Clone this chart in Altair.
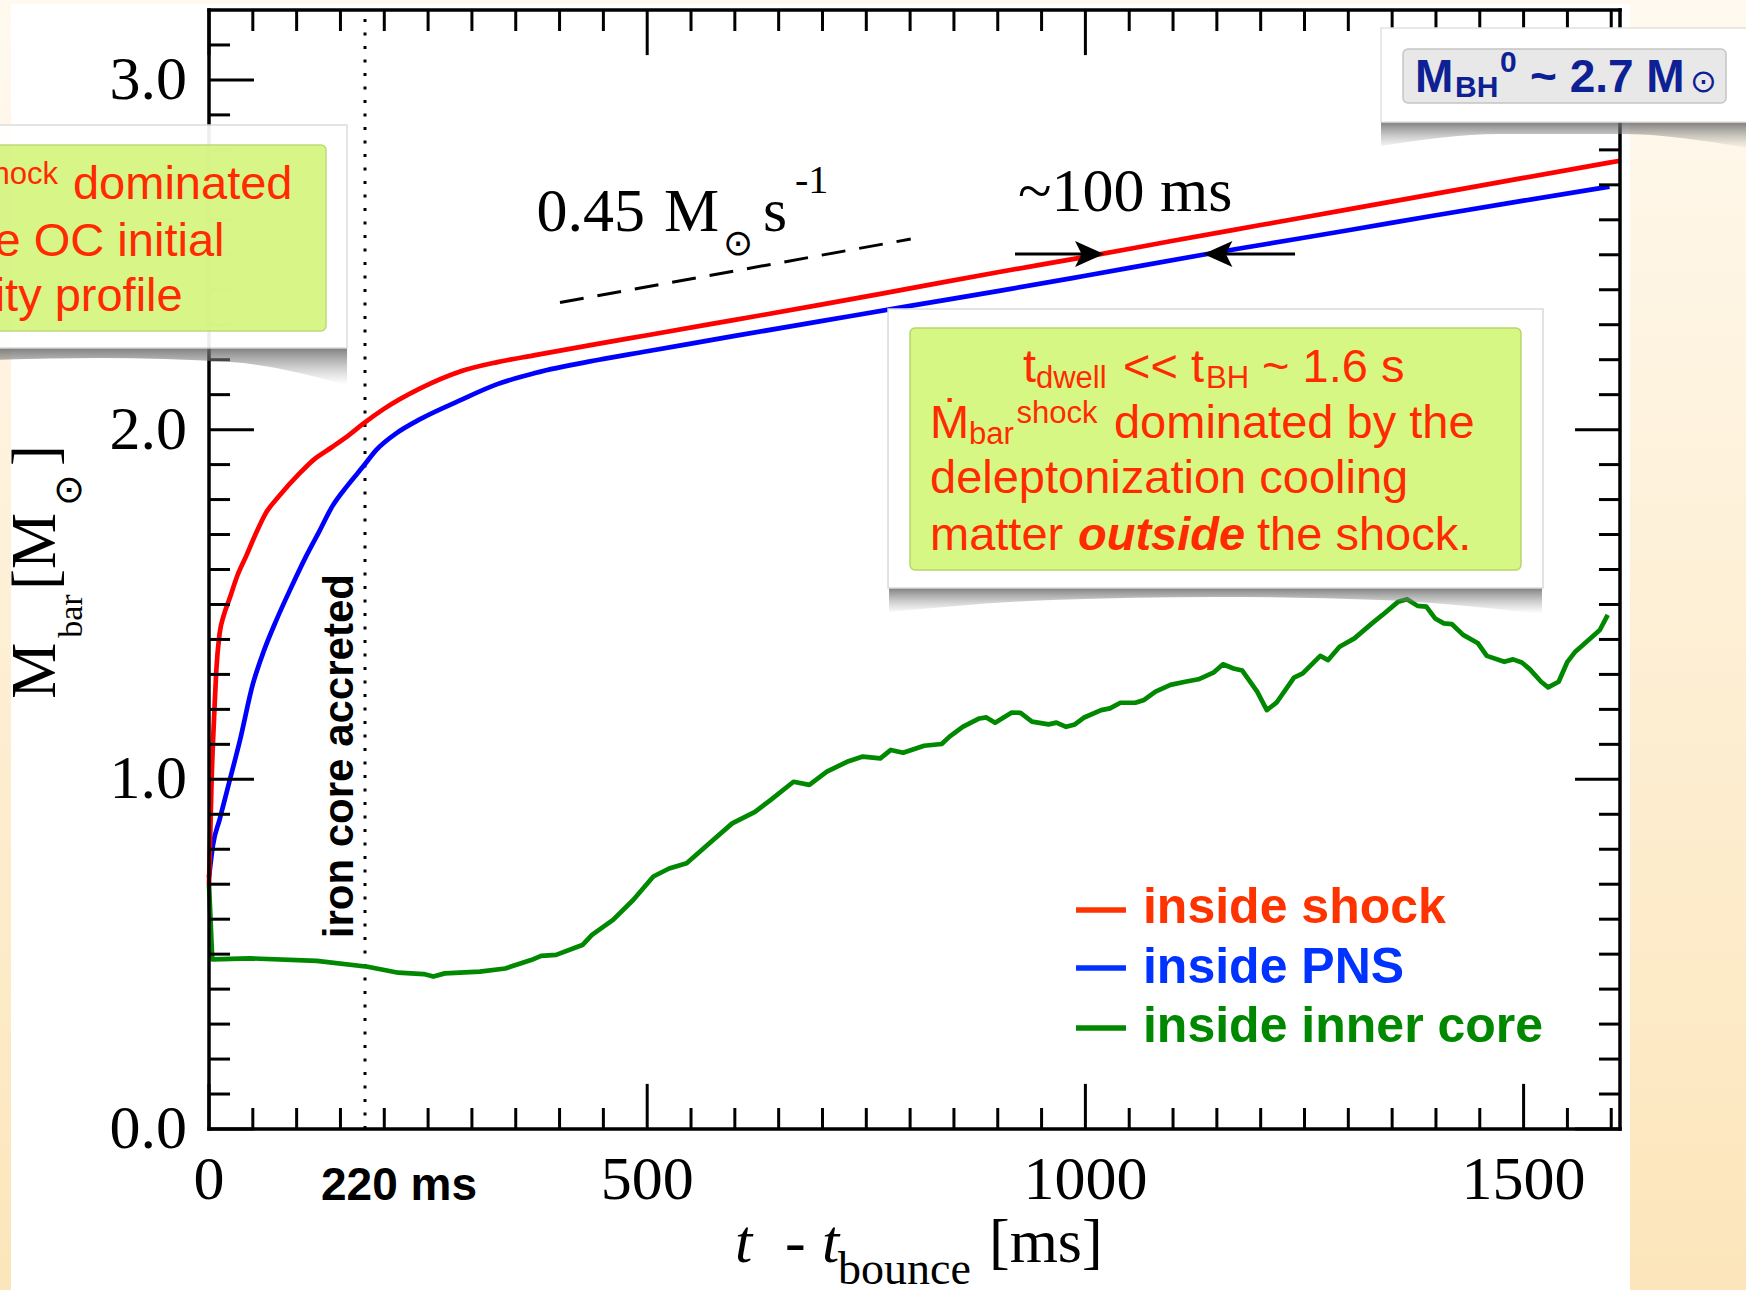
import altair as alt
import pandas as pd

# ---------------- data ----------------
series_names = ["inside shock", "inside PNS", "inside inner core"]
line_colors = ["#FF0000", "#0000FF", "#008800"]
legend_text_colors = ["#FF3300", "#0033FF", "#008800"]

shock_t = [0, 3, 6.4, 8.3, 12, 17, 23.5, 32, 42.5, 53, 65, 80, 103, 120, 141, 160, 176, 200,
           241, 285, 329, 372, 445, 500, 600, 700, 800, 900, 1000, 1100, 1200, 1300, 1400, 1500, 1610]
shock_m = [0.70, 1.00, 1.21, 1.31, 1.415, 1.47, 1.517, 1.58, 1.639, 1.70, 1.762, 1.81, 1.874, 1.915,
           1.951, 1.985, 2.017, 2.06, 2.118, 2.165, 2.193, 2.213, 2.246, 2.270, 2.314, 2.358, 2.404,
           2.45, 2.494, 2.54, 2.585, 2.63, 2.675, 2.72, 2.769]

pns_t = [0, 4.5, 12, 23.5, 35, 50, 63, 77, 94, 111, 126, 141, 158, 176, 191, 214, 241, 285, 329,
         372, 445, 500, 600, 700, 800, 900, 1000, 1134, 1200, 1300, 1400, 1500, 1598]
pns_m = [0.72, 0.812, 0.884, 0.996, 1.108, 1.272, 1.37, 1.456, 1.55, 1.639, 1.71, 1.782, 1.84,
         1.895, 1.942, 1.99, 2.03, 2.082, 2.130, 2.162, 2.200, 2.224, 2.268, 2.311, 2.354, 2.396,
         2.44, 2.50, 2.528, 2.57, 2.613, 2.655, 2.695]

core_t = [0, 3.7, 47, 123, 181, 216, 245, 256, 269, 309, 338, 367.5, 379, 396, 426, 437, 461, 484,
          507, 525, 545, 571, 597, 623, 641, 667, 685, 705, 728, 746, 766, 778, 792, 816, 836, 845,
          860, 879, 887, 897, 916, 926, 939, 958, 967, 978, 988, 998, 1018, 1028, 1040, 1057, 1067,
          1080, 1097, 1114, 1129, 1146, 1157, 1169, 1179, 1196, 1207, 1218, 1238, 1248, 1268, 1277,
          1290, 1307, 1327, 1339, 1357, 1367, 1379, 1389, 1399, 1409, 1418, 1431, 1448, 1458, 1478,
          1488, 1498, 1507, 1520, 1528, 1540, 1550, 1559, 1587, 1596]
core_m = [0.70, 0.485, 0.488, 0.481, 0.464, 0.447, 0.443, 0.436, 0.445, 0.450, 0.459, 0.483, 0.495,
          0.498, 0.526, 0.555, 0.598, 0.655, 0.722, 0.745, 0.760, 0.817, 0.874, 0.907, 0.941, 0.993,
          0.984, 1.022, 1.050, 1.065, 1.060, 1.084, 1.076, 1.096, 1.101, 1.122, 1.150, 1.174, 1.177,
          1.162, 1.191, 1.190, 1.165, 1.157, 1.162, 1.150, 1.157, 1.176, 1.198, 1.203, 1.219, 1.219,
          1.227, 1.251, 1.270, 1.279, 1.286, 1.305, 1.329, 1.317, 1.311, 1.251, 1.198, 1.219, 1.291,
          1.303, 1.353, 1.341, 1.379, 1.403, 1.446, 1.470, 1.508, 1.515, 1.496, 1.494, 1.460, 1.446,
          1.444, 1.413, 1.389, 1.353, 1.336, 1.343, 1.334, 1.315, 1.279, 1.263, 1.279, 1.336, 1.365,
          1.427, 1.470]

x_major = [0, 500, 1000, 1500]
y_major = [0.0, 1.0, 2.0, 3.0]
x_minor = [v for v in range(50, 1601, 50) if v % 500]
y_minor = [round(0.1 * i, 1) for i in range(1, 32) if i % 10]

# ---------------- layout ----------------
T_MAX, M_MAX = 1610, 3.2
W, H = 1411, 1119
TICK_T_MIN, TICK_T_MAJ = 24.0, 51.3      # ms
TICK_M_MIN, TICK_M_MAJ = 0.060, 0.129    # M_sun
X_LABEL_M = -0.2002                      # baseline of the x tick labels
Y_LABEL_T = -25.1                        # right edge of the y tick labels

SERIF = "Liberation Serif"
SANS = "Liberation Sans"
RED_TXT = "#FF2A00"
NAVY = "#0D2194"

XS = alt.Scale(domain=[0, T_MAX], nice=False, zero=False)
YS = alt.Scale(domain=[0, M_MAX], nice=False, zero=False)


def X(f="t"):
    return alt.X(f"{f}:Q", scale=XS, axis=None)


def Y(f="m"):
    return alt.Y(f"{f}:Q", scale=YS, axis=None)


def rect_layer(rows, **props):
    df = pd.DataFrame(rows, columns=["t", "t2", "m", "m2"])
    return alt.Chart(df).mark_rect(**props).encode(x=X(), x2="t2:Q", y=Y(), y2="m2:Q")


def rule_layer(rows, **props):
    df = pd.DataFrame(rows, columns=["t", "t2", "m", "m2"])
    return alt.Chart(df).mark_rule(**props).encode(x=X(), x2="t2:Q", y=Y(), y2="m2:Q")


def text_layer(rows, **props):
    df = pd.DataFrame(rows, columns=["t", "m", "label"])
    p = dict(align="left", baseline="alphabetic")
    p.update(props)
    return alt.Chart(df).mark_text(**p).encode(x=X(), y=Y(), text="label:N")


def shadow_layer(ts, top, bottoms):
    df = pd.DataFrame({"t": ts, "m": [top] * len(ts), "m2": bottoms})
    grad = alt.LinearGradient(
        gradient="linear",
        stops=[alt.GradientStop(color="rgba(105,105,105,0.85)", offset=0),
               alt.GradientStop(color="rgba(160,160,160,0)", offset=1)],
        x1=0, x2=0, y1=0, y2=1)
    return alt.Chart(df).mark_area(color=grad, interpolate="monotone").encode(
        x=X(), y=Y(), y2="m2:Q")


layers = []

# page background (cream gradient) and the white figure sheet
bg_grad = alt.LinearGradient(
    gradient="linear",
    stops=[alt.GradientStop(color="#FFF9EF", offset=0),
           alt.GradientStop(color="#FCE5BA", offset=1)],
    x1=0, x2=0, y1=0, y2=1)
layers.append(rect_layer([(-260, 1780, -0.5, 3.25)], color=bg_grad))
layers.append(rect_layer([(-225.9, 1621.4, -0.5, 3.217)], color="white"))

# reference lines
layers.append(rule_layer([(178, 178, 0, M_MAX)], color="black", strokeWidth=3, strokeDash=[3, 10.5]))
layers.append(rule_layer([(400.5, 800.7, 2.3635, 2.545)], color="black", strokeWidth=3, strokeDash=[24, 14]))

# curves
color_enc = alt.Color("series:N", scale=alt.Scale(domain=series_names, range=line_colors), legend=None)
core_df = pd.DataFrame({"series": series_names[2], "t": core_t, "m": core_m, "idx": range(len(core_t))})
smooth_df = pd.concat([
    pd.DataFrame({"series": series_names[1], "t": pns_t, "m": pns_m, "idx": range(len(pns_t))}),
    pd.DataFrame({"series": series_names[0], "t": shock_t, "m": shock_m, "idx": range(len(shock_t))}),
])
layers.append(alt.Chart(core_df).mark_line(strokeWidth=4.7, strokeJoin="round").encode(
    x=X(), y=Y(), color=color_enc, order="idx:Q"))
layers.append(alt.Chart(smooth_df).mark_line(strokeWidth=4.7, strokeJoin="round",
                                             interpolate="monotone").encode(
    x=X(), y=Y(), color=color_enc, detail="series:N", order="idx:Q"))

# frame
layers.append(rule_layer([(0, T_MAX, 0, 0), (0, T_MAX, M_MAX, M_MAX),
                          (0, 0, 0, M_MAX), (T_MAX, T_MAX, 0, M_MAX)],
                         color="black", strokeWidth=3.5, strokeCap="square"))

# inward ticks on all four sides
tick_rows = []
for v in x_minor + x_major:
    L = TICK_M_MAJ if v in x_major else TICK_M_MIN
    tick_rows.append((v, v, 0, L))
    tick_rows.append((v, v, M_MAX, M_MAX - L))
for v in y_minor + y_major:
    L = TICK_T_MAJ if v in y_major else TICK_T_MIN
    tick_rows.append((0, L, v, v))
    tick_rows.append((T_MAX, T_MAX - L, v, v))
layers.append(rule_layer(tick_rows, color="black", strokeWidth=3))

# tick labels
layers.append(text_layer([(v, X_LABEL_M, str(v)) for v in x_major], font=SERIF, fontSize=62,
                         color="black", align="center"))
layers.append(text_layer([(Y_LABEL_T, v, f"{v:.1f}") for v in y_major], font=SERIF, fontSize=62,
                         color="black", align="right", baseline="middle"))

# arrows (~100 ms)
layers.append(rule_layer([(919.7, 1004.7, 2.5022, 2.5022), (1151.2, 1239.2, 2.5022, 2.5022)],
                         color="black", strokeWidth=3))
arrow_r = pd.DataFrame({"t": [1004.7], "m": [2.5022]})
arrow_l = pd.DataFrame({"t": [1151.2], "m": [2.5022]})
layers.append(alt.Chart(arrow_r).mark_point(shape="M1,0L-1,-0.9L-0.55,0L-1,0.9Z", size=841,
                                            filled=True, color="black", opacity=1).encode(x=X(), y=Y()))
layers.append(alt.Chart(arrow_l).mark_point(shape="M-1,0L1,-0.9L0.55,0L1,0.9Z", size=841,
                                            filled=True, color="black", opacity=1).encode(x=X(), y=Y()))

# serif annotations
layers.append(text_layer([(373.8, 2.5686, "0.45"), (519.2, 2.5686, "M"), (632.1, 2.5686, "s"),
                          (923.1, 2.6253, "~100 ms"),
                          (657.2, -0.3803, "-"), (890.0, -0.3803, "[ms]")],
                         font=SERIF, fontSize=62, color="black"))
layers.append(text_layer([(668.7, 2.6764, "-1")], font=SERIF, fontSize=40, color="black"))
layers.append(text_layer([(603.6, 2.5306, "\u2299")], font=SERIF, fontSize=36, color="black",
                         align="center", baseline="middle"))
layers.append(text_layer([(600.2, -0.3803, "t"), (699.5, -0.3803, "t")],
                         font=SERIF, fontSize=62, fontStyle="italic", color="black"))
layers.append(text_layer([(717.7, -0.4432, "bounce")], font=SERIF, fontSize=46, color="black"))

# y title pieces (rotated)
layers.append(text_layer([(-175.7, 1.2306, "M"), (-175.7, 1.5414, "[M"), (-175.7, 1.8960, "]")],
                         font=SERIF, fontSize=63, color="black", angle=270))
layers.append(text_layer([(-144.9, 1.4049, "bar")], font=SERIF, fontSize=34, color="black", angle=270))
layers.append(text_layer([(-159.0, 1.8273, "\u2299")], font=SERIF, fontSize=38, color="black",
                         angle=270, align="center", baseline="middle"))

# bold sans annotations
layers.append(text_layer([(164.3, 0.5455, "iron core accreted")], font=SANS, fontSize=42,
                         fontWeight="bold", color="black", angle=270))
layers.append(text_layer([(216.8, -0.2031, "220 ms")], font=SANS, fontSize=46,
                         fontWeight="bold", color="black", align="center"))

# ---- left box (partly off the page) ----
layers.append(shadow_layer([-249.9, -124.4, 24.0, 157.5], 2.2334, [2.1991, 2.2048, 2.1934, 2.1276]))
layers.append(rect_layer([(-249.9, 157.5, 2.2334, 2.8714)], fill="white", opacity=0.93,
                         stroke="#DADADA", strokeWidth=1.5))
layers.append(rect_layer([(-249.9, 133.5, 2.2822, 2.8142)], fill="#D4F47C", opacity=0.9,
                         stroke="#B5D66A", strokeWidth=1.5, cornerRadius=5))
layers.append(text_layer([(-360.9, 2.6596, "\u1E40"), (-155.2, 2.6596, "dominated"),
                          (-360.9, 2.4965, "by the OC initial"), (-360.9, 2.3392, "density profile")],
                         font=SANS, fontSize=47, color=RED_TXT))
layers.append(text_layer([(-316.1, 2.6424, "bar"), (-264.7, 2.7024, "shock")],
                         font=SANS, fontSize=31, color=RED_TXT))

# ---- middle box ----
layers.append(shadow_layer([775.9, 961.9, 1148.5, 1336.0, 1521.0], 1.5471,
                           [1.4784, 1.5128, 1.5214, 1.5128, 1.4727]))
layers.append(rect_layer([(774.8, 1522.1, 1.5471, 2.3449)], fill="white", stroke="#DADADA",
                         strokeWidth=1.5))
layers.append(rect_layer([(799.9, 1497.0, 1.5986, 2.2906)], fill="#D7F784", stroke="#B5D66A",
                         strokeWidth=1.5, cornerRadius=5))
layers.append(text_layer([(928.8, 2.1362, "t"), (1042.9, 2.1362, "<< t"), (1201.5, 2.1362, "~ 1.6 s"),
                          (822.7, 1.976, "\u1E40"), (1032.6, 1.976, "dominated by the"),
                          (822.7, 1.8187, "deleptonization cooling"),
                          (822.7, 1.6557, "matter"), (1195.8, 1.6557, "the shock.")],
                         font=SANS, fontSize=47, color=RED_TXT))
layers.append(text_layer([(943.6, 2.1190, "dwell"), (1137.6, 2.1190, "BH"),
                          (867.2, 1.9589, "bar"), (921.5, 2.0189, "shock")],
                         font=SANS, fontSize=31, color=RED_TXT))
layers.append(text_layer([(991.6, 1.6557, "outside")], font=SANS, fontSize=47, fontWeight="bold",
                         fontStyle="italic", color=RED_TXT))

# ---- top-right box ----
layers.append(shadow_layer([1337.3, 1473.1, 1610.0, 1769.7], 2.8797, [2.8110, 2.8453, 2.8453, 2.7996]))
layers.append(rect_layer([(1337.3, 1770.0, 2.8797, 3.1485)], fill="white", stroke="#E2E2E2",
                         strokeWidth=1.5))
layers.append(rect_layer([(1362.4, 1731.0, 2.9340, 3.0884)], fill="#E8E8E8", stroke="#C4C4C4",
                         strokeWidth=1.5, cornerRadius=5))
layers.append(text_layer([(1376.1, 2.9664, "M"), (1507.3, 2.9664, "~ 2.7 M")],
                         font=SANS, fontSize=46, fontWeight="bold", color=NAVY))
layers.append(text_layer([(1421.8, 2.9513, "BH"), (1473.1, 3.0227, "0")],
                         font=SANS, fontSize=30, fontWeight="bold", color=NAVY))
layers.append(text_layer([(1705.8, 2.9941, "\u2299")], font=SANS, fontSize=32, color=NAVY,
                         align="center", baseline="middle"))

# ---- legend ----
leg = pd.DataFrame({"series": series_names,
                    "t": [989.3] * 3, "t2": [1046.3] * 3, "tt": [1065.7] * 3,
                    "m": [0.6263, 0.4604, 0.2888],
                    "mt": [0.5882, 0.4184, 0.2496]})
layers.append(alt.Chart(leg).mark_rule(strokeWidth=5.5).encode(
    x=X(), x2="t2:Q", y=Y(),
    stroke=alt.Stroke("series:N", scale=alt.Scale(domain=series_names, range=legend_text_colors),
                      legend=None)))
layers.append(alt.Chart(leg).mark_text(align="left", baseline="alphabetic", font=SANS, fontSize=50,
                                       fontWeight="bold").encode(
    x=X("tt"), y=Y("mt"), text="series:N",
    fill=alt.Fill("series:N", scale=alt.Scale(domain=series_names, range=legend_text_colors),
                  legend=None)))

chart = alt.layer(*layers).properties(
    width=W, height=H,
    padding={"left": 209, "top": 10, "right": 126, "bottom": 161},
    autosize=alt.AutoSizeParams(type="none"),
    background="white",
).configure_view(stroke=None)

chart.save("out.html", embed_options={"renderer": "svg", "actions": False})
